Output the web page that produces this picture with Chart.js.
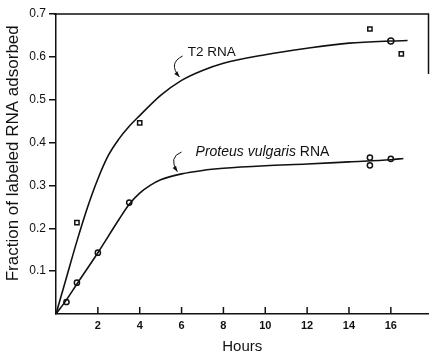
<!DOCTYPE html>
<html>
<head>
<meta charset="utf-8">
<script src="https://cdn.jsdelivr.net/npm/chart.js@4.4.0/dist/chart.umd.min.js"></script>
<style>
  html, body { margin: 0; padding: 0; background: #fff; }
</style>
</head>
<body>
<canvas id="chart" width="434" height="354"></canvas>
<script>
"use strict";

// measured points
const t2Hours = [1, 4, 15, 16, 16.5];
const t2Fraction = [0.213, 0.446, 0.665, 0.637, 0.607];
const proteusHours = [0.5, 1, 2, 3.5, 15, 15, 16];
const proteusFraction = [0.028, 0.073, 0.143, 0.26, 0.365, 0.347, 0.362];

// hand-drawn fitted curves
const t2CurveHours = [0, 0.5, 1, 1.5, 2, 2.5, 3, 3.5, 4, 5, 6, 7, 8, 10, 12, 14, 16, 16.8];
const t2CurveFraction = [0, 0.085, 0.17, 0.248, 0.315, 0.37, 0.408, 0.438, 0.463, 0.51, 0.545, 0.568, 0.585, 0.605, 0.62, 0.632, 0.637, 0.638];
const proteusCurveHours = [0, 0.5, 1, 2, 3, 3.5, 4, 4.5, 5, 6, 7, 8, 10, 12, 14, 16, 16.6];
const proteusCurveFraction = [0, 0.033, 0.07, 0.143, 0.22, 0.256, 0.282, 0.3, 0.313, 0.327, 0.335, 0.34, 0.346, 0.35, 0.355, 0.36, 0.363];

const xTicks = [2, 4, 6, 8, 10, 12, 14, 16];
const yTicks = [0.1, 0.2, 0.3, 0.4, 0.5, 0.6, 0.7];

function toPoints(xs, ys) {
  return xs.map((x, i) => ({ x: x, y: ys[i] }));
}

const ink = "#111";
const fam = "'Liberation Sans', Arial, sans-serif";

function arrow(ctx, xs, ys, p0, c, p1) {
  const ax = xs.getPixelForValue(p0[0]), ay = ys.getPixelForValue(p0[1]);
  const cx = xs.getPixelForValue(c[0]), cy = ys.getPixelForValue(c[1]);
  const bx = xs.getPixelForValue(p1[0]), by = ys.getPixelForValue(p1[1]);
  ctx.beginPath();
  ctx.moveTo(ax, ay);
  ctx.quadraticCurveTo(cx, cy, bx, by);
  ctx.stroke();
  const ang = Math.atan2(by - cy, bx - cx);
  ctx.beginPath();
  ctx.moveTo(bx, by);
  ctx.lineTo(bx - 6 * Math.cos(ang - 0.35), by - 6 * Math.sin(ang - 0.35));
  ctx.lineTo(bx - 6 * Math.cos(ang + 0.35), by - 6 * Math.sin(ang + 0.35));
  ctx.closePath();
  ctx.fill();
}

const extras = {
  id: "extras",
  afterDraw(chart) {
    const ctx = chart.ctx;
    const area = chart.chartArea;
    const xs = chart.scales.x;
    const ys = chart.scales.y;
    ctx.save();
    ctx.strokeStyle = ink;
    ctx.fillStyle = ink;
    ctx.lineWidth = 1.5;
    // frame top and the bit of right edge that shows
    ctx.beginPath();
    ctx.moveTo(area.left - 2, area.top);
    ctx.lineTo(area.right, area.top);
    ctx.lineTo(area.right, ys.getPixelForValue(0.56));
    ctx.stroke();
    // x ticks point inward
    for (const v of xTicks) {
      const px = xs.getPixelForValue(v);
      ctx.beginPath();
      ctx.moveTo(px, area.bottom);
      ctx.lineTo(px, area.bottom - 7);
      ctx.stroke();
    }
    // y axis title, sits a bit above centre like the original
    ctx.save();
    ctx.translate(13, ys.getPixelForValue(0.375));
    ctx.rotate(-Math.PI / 2);
    ctx.textAlign = "center";
    ctx.textBaseline = "middle";
    ctx.font = "17px " + fam;
    ctx.fillText("Fraction of labeled RNA adsorbed", 0, 0);
    ctx.restore();
    // curve labels
    ctx.lineWidth = 1;
    ctx.textBaseline = "middle";
    ctx.textAlign = "left";
    ctx.font = "13.5px " + fam;
    ctx.fillText("T2 RNA", xs.getPixelForValue(6.3), ys.getPixelForValue(0.611));
    arrow(ctx, xs, ys, [6.05, 0.602], [5.35, 0.585], [5.9, 0.553]);

    let px = xs.getPixelForValue(6.67);
    const py = ys.getPixelForValue(0.378);
    ctx.font = "italic 14px " + fam;
    ctx.fillText("Proteus vulgaris", px, py);
    px += ctx.measureText("Proteus vulgaris ").width;
    ctx.font = "14px " + fam;
    ctx.fillText("RNA", px, py);
    arrow(ctx, xs, ys, [6.0, 0.378], [5.35, 0.366], [5.8, 0.332]);
    ctx.restore();
  }
};

const config = {
  type: "scatter",
  data: {
    datasets: [
      {
        label: "T2 RNA curve",
        data: toPoints(t2CurveHours, t2CurveFraction),
        showLine: true,
        cubicInterpolationMode: "monotone",
        borderColor: ink,
        borderWidth: 1.6,
        pointRadius: 0,
      },
      {
        label: "Proteus vulgaris RNA curve",
        data: toPoints(proteusCurveHours, proteusCurveFraction),
        showLine: true,
        cubicInterpolationMode: "monotone",
        borderColor: ink,
        borderWidth: 1.6,
        pointRadius: 0,
      },
      {
        label: "T2 RNA",
        data: toPoints(t2Hours, t2Fraction),
        pointStyle: ["rect", "rect", "rect", "circle", "rect"],
        pointRadius: 3,
        borderColor: ink,
        backgroundColor: "#fff",
        borderWidth: 1.5,
      },
      {
        label: "Proteus vulgaris RNA",
        data: toPoints(proteusHours, proteusFraction),
        pointStyle: "circle",
        pointRadius: 2.6,
        borderColor: ink,
        backgroundColor: "#fff",
        borderWidth: 1.5,
      },
    ],
  },
  options: {
    responsive: false,
    animation: false,
    layout: { padding: { top: 14, right: 1, left: 0, bottom: 0 } },
    plugins: { legend: { display: false }, tooltip: { enabled: false } },
    scales: {
      x: {
        type: "linear",
        min: 0,
        max: 17.8,
        afterBuildTicks(scale) {
          scale.ticks = xTicks.map((v) => ({ value: v }));
        },
        afterFit(scale) {
          scale.height = 40;
        },
        grid: { display: true, drawOnChartArea: false, drawTicks: false },
        border: { display: true, color: ink, width: 1.5 },
        ticks: {
          color: ink,
          padding: 5,
          maxRotation: 0,
          font: { family: fam, size: 11, weight: "bold" },
        },
        title: {
          display: true,
          text: "Hours",
          color: ink,
          padding: 0,
          font: { family: fam, size: 15, lineHeight: 1 },
        },
      },
      y: {
        min: 0,
        max: 0.7,
        afterBuildTicks(scale) {
          scale.ticks = yTicks.map((v) => ({ value: v }));
        },
        afterFit(scale) {
          scale.width = 56;
        },
        grid: { display: true, drawOnChartArea: false, drawTicks: true, tickLength: 7, color: ink, lineWidth: 1.5 },
        border: { display: true, color: ink, width: 1.5 },
        ticks: {
          color: ink,
          padding: 3,
          callback: (v) => v.toFixed(1),
          font: { family: fam, size: 12 },
        },
        title: { display: false },
      },
    },
  },
  plugins: [extras],
};

const myChart = new Chart(document.getElementById("chart"), config);
</script>
</body>
</html>
